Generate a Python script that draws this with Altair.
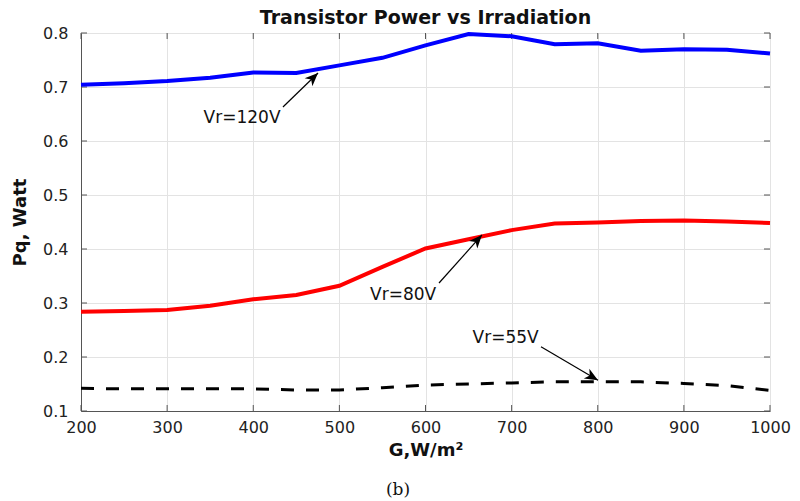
import altair as alt
import pandas as pd

# ---- data ----
G = [200, 250, 300, 350, 400, 450, 500, 550, 600, 650, 700, 750, 800, 850, 900, 950, 1000]
p_120 = [0.704, 0.707, 0.711, 0.717, 0.727, 0.726, 0.740, 0.754, 0.777, 0.798, 0.794, 0.779, 0.781, 0.767, 0.770, 0.769, 0.762]
p_80 = [0.284, 0.285, 0.287, 0.295, 0.307, 0.315, 0.332, 0.367, 0.401, 0.418, 0.435, 0.447, 0.449, 0.452, 0.453, 0.451, 0.448]
p_55 = [0.142, 0.141, 0.141, 0.141, 0.141, 0.139, 0.139, 0.143, 0.148, 0.150, 0.152, 0.154, 0.154, 0.154, 0.151, 0.147, 0.138]

x_ticks = [200, 300, 400, 500, 600, 700, 800, 900, 1000]
y_ticks = [0.1, 0.2, 0.3, 0.4, 0.5, 0.6, 0.7, 0.8]

labels = ["Vr=120V", "Vr=80V", "Vr=55V"]
label_x = [387, 574, 693]
label_y = [0.643, 0.315, 0.235]
arrow_x0 = [434.5, 615.7, 734.1]
arrow_y0 = [0.663, 0.337, 0.219]
arrow_x1 = [475.2, 665.6, 800.3]
arrow_y1 = [0.726, 0.426, 0.157]
arrow_angle = [46, 42, 120]

W, H = 689, 378

df = pd.DataFrame({
    "G": G * 3,
    "P": p_120 + p_80 + p_55,
    "s": ["120"] * len(G) + ["80"] * len(G) + ["55"] * len(G),
})
ann = pd.DataFrame({
    "label": labels, "lx": label_x, "ly": label_y,
    "x0": arrow_x0, "y0": arrow_y0, "x1": arrow_x1, "y1": arrow_y1,
    "ang": arrow_angle,
})
xt = pd.DataFrame({"x": x_ticks})
yt = pd.DataFrame({"y": y_ticks})

FONT = "DejaVu Sans"
xscale = alt.Scale(domain=[200, 1000], nice=False, zero=False)
yscale = alt.Scale(domain=[0.1, 0.8], nice=False, zero=False)

xaxis = alt.Axis(values=x_ticks, format="d", title="G,W/m²", grid=True, gridColor="#e3e3e3",
                 ticks=False, labelPadding=8, titlePadding=6, labelFontSize=16,
                 labelFont=FONT, labelColor="#222", titleFont=FONT, titleFontSize=18,
                 titleFontWeight="bold", titleColor="#111", domainColor="#555",
                 labelFlush=False)
yaxis = alt.Axis(values=y_ticks, title="Pq, Watt", format=".1f", grid=True,
                 gridColor="#e3e3e3", ticks=False, labelPadding=13, titlePadding=13,
                 labelFontSize=16, labelFont=FONT, labelColor="#222", titleFont=FONT,
                 titleFontSize=18, titleFontWeight="bold", titleColor="#111",
                 domainColor="#555")

base = alt.Chart(df)
blue = base.transform_filter(alt.datum.s == "120").mark_line(color="#0000ff", strokeWidth=4).encode(
    x=alt.X("G:Q", scale=xscale, axis=xaxis),
    y=alt.Y("P:Q", scale=yscale, axis=yaxis),
)
red = base.transform_filter(alt.datum.s == "80").mark_line(color="#ff0000", strokeWidth=4).encode(
    x=alt.X("G:Q", scale=xscale), y=alt.Y("P:Q", scale=yscale))
black = base.transform_filter(alt.datum.s == "55").mark_line(
    color="black", strokeWidth=3, strokeDash=[13, 12]).encode(
    x=alt.X("G:Q", scale=xscale), y=alt.Y("P:Q", scale=yscale))

arrows = alt.Chart(ann).mark_rule(color="black", strokeWidth=1.2).encode(
    x=alt.X("x0:Q", scale=xscale), y=alt.Y("y0:Q", scale=yscale),
    x2="x1:Q", y2="y1:Q")
heads = alt.Chart(ann).mark_point(
    shape="M0,0 L0.42,1 L0,0.72 L-0.42,1 Z", filled=True, color="black",
    opacity=1, size=700, strokeWidth=0).encode(
    x=alt.X("x1:Q", scale=xscale), y=alt.Y("y1:Q", scale=yscale),
    angle=alt.Angle("ang:Q", scale=None))
texts = alt.Chart(ann).mark_text(font=FONT, fontSize=17, color="#111").encode(
    x=alt.X("lx:Q", scale=xscale), y=alt.Y("ly:Q", scale=yscale), text="label:N")

# inward tick marks (MATLAB style) on all four sides
tb = alt.Chart(xt).mark_rule(color="#555").encode(
    x=alt.X("x:Q", scale=xscale), y=alt.value(H), y2=alt.value(H - 6))
tt = alt.Chart(xt).mark_rule(color="#555").encode(
    x=alt.X("x:Q", scale=xscale), y=alt.value(0), y2=alt.value(6))
tl = alt.Chart(yt).mark_rule(color="#555").encode(
    y=alt.Y("y:Q", scale=yscale), x=alt.value(0), x2=alt.value(6))
tr = alt.Chart(yt).mark_rule(color="#555").encode(
    y=alt.Y("y:Q", scale=yscale), x=alt.value(W), x2=alt.value(W - 6))

caption = alt.Chart(pd.DataFrame({"t": ["(b)"]})).mark_text(
    font="DejaVu Serif", fontSize=17, color="#111").encode(
    x=alt.value(317), y=alt.value(457), text="t:N")

chart = alt.layer(tb, tt, tl, tr, blue, red, black, arrows, heads, texts, caption).properties(
    width=W, height=H,
    title=alt.TitleParams("Transistor Power vs Irradiation", font=FONT, fontSize=19,
                          fontWeight="bold", color="#111", anchor="middle", offset=-3),
    autosize=alt.AutoSizeParams(type="none"),
    padding={"left": 81, "top": 33, "right": 30, "bottom": 90},
).configure_view(stroke="#555", strokeWidth=1).configure(background="white")

chart.save("out.html", embed_options={"renderer": "svg", "actions": False})
